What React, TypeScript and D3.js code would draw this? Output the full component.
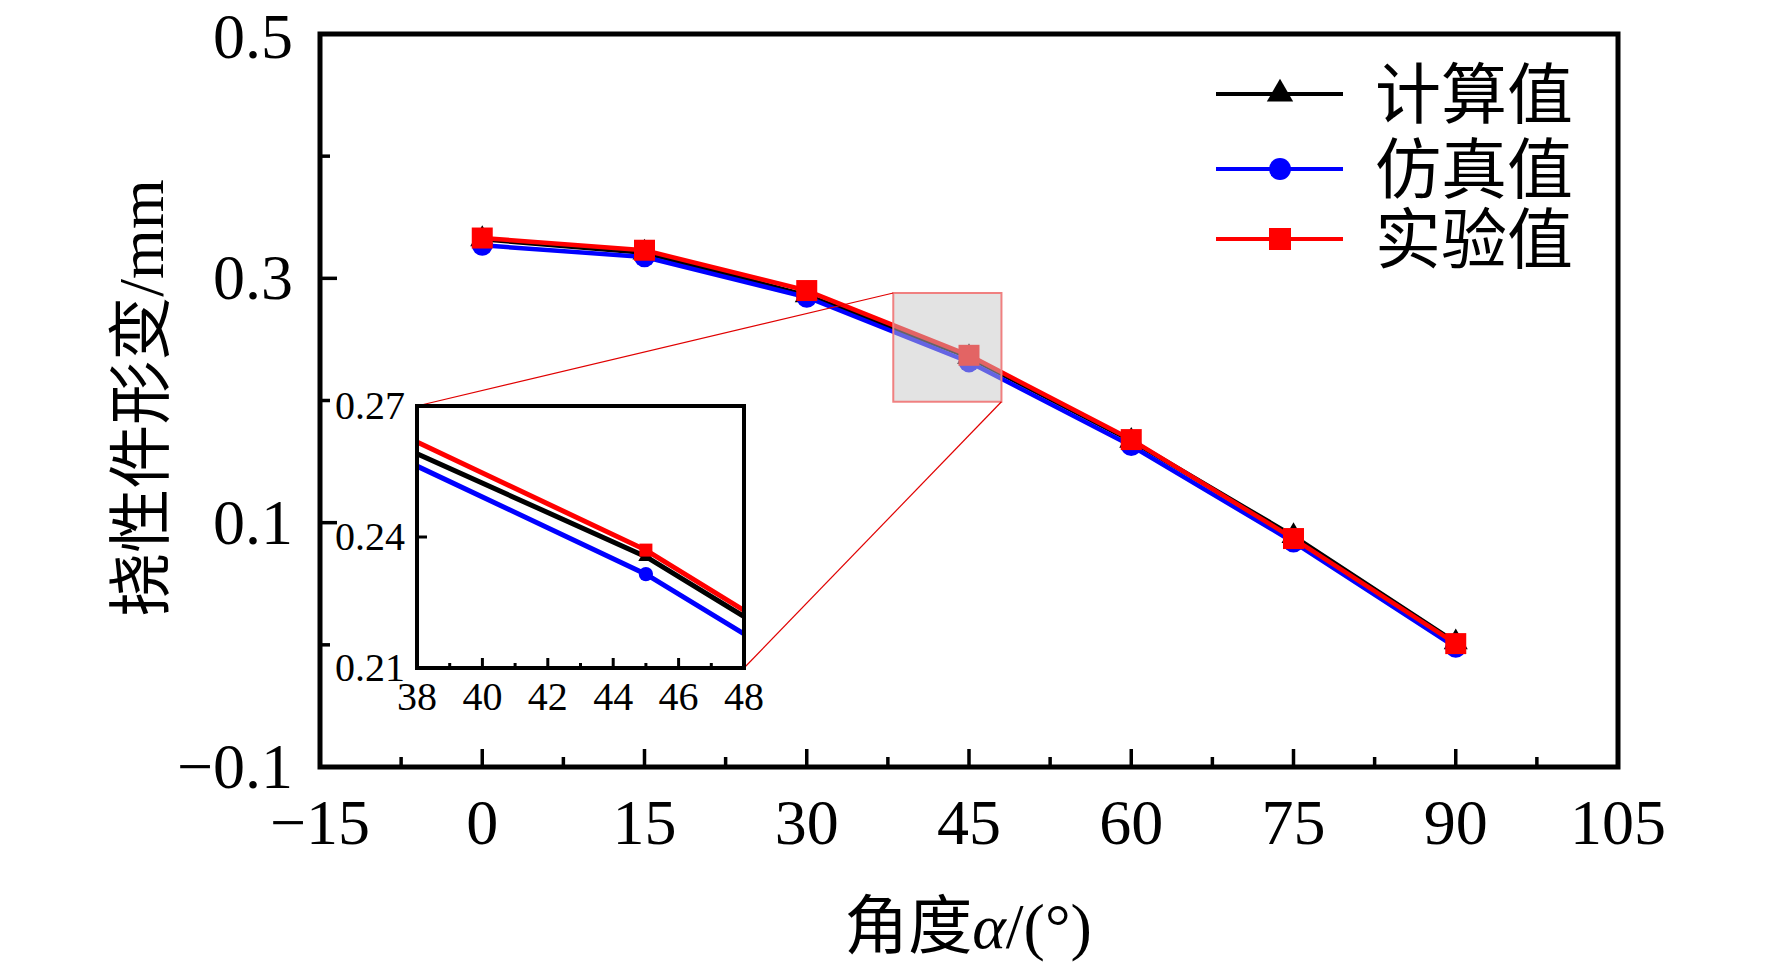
import React from 'react';
import * as d3 from 'd3';

// angle α (deg) and deflection (mm)
const angles = [0, 15, 30, 45, 60, 75, 90];
const calcValues = [0.332, 0.321, 0.286, 0.2355, 0.167, 0.089, 0.002];
const simValues = [0.327, 0.3175, 0.2845, 0.2315, 0.163, 0.084, -0.002];
const expValues = [0.333, 0.323, 0.29, 0.237, 0.168, 0.087, 0.001];

const seriesNames = ['计算值', '仿真值', '实验值'];
const seriesColors = ['#000000', '#0000ff', '#ff0000'];
const seriesSymbols = [d3.symbolTriangle, d3.symbolCircle, d3.symbolSquare];

const xMajorTicks = [-15, 0, 15, 30, 45, 60, 75, 90, 105];
const xMinorTicks = [-7.5, 7.5, 22.5, 37.5, 52.5, 67.5, 82.5, 97.5];
const xTickLabels = ['−15', '0', '15', '30', '45', '60', '75', '90', '105'];
const yMajorTicks = [-0.1, 0.1, 0.3, 0.5];
const yMinorTicks = [0, 0.2, 0.4];
const yTickLabels = ['−0.1', '0.1', '0.3', '0.5'];

// zoomed region
const zoomX = [38, 48];
const zoomBoxY = [0.199, 0.288];
const insetYDomain = [0.21, 0.27];
const insetXMajor = [38, 40, 42, 44, 46, 48];
const insetXMinor = [39, 41, 43, 45, 47];
const insetYMajor = [0.21, 0.24, 0.27];
const insetYLabels = ['0.21', '0.24', '0.27'];

const serif = '"Liberation Serif", "Times New Roman", serif';
const cjk = '"Liberation Serif", "Noto Sans CJK SC", serif';

export default function App() {
  const width = 1772;
  const height = 963;
  const x = d3.scaleLinear().domain([-15, 105]).range([320, 1618]);
  const y = d3.scaleLinear().domain([-0.1, 0.5]).range([767, 34]);

  const ix = d3.scaleLinear().domain(zoomX).range([417, 744]);
  const iy = d3.scaleLinear().domain(insetYDomain).range([668, 406]);

  const allSeries = [calcValues, simValues, expValues];

  const mainLine = d3.line<number>().x((_, i) => x(angles[i])).y(d => y(d));
  const insetLine = d3.line<number>().x((_, i) => ix(angles[i])).y(d => iy(d));

  const [x0, x1] = x.range();
  const [y0, y1] = y.range();
  const [ix0, ix1] = ix.range();
  const [iy0, iy1] = iy.range();

  const bx0 = x(zoomX[0]);
  const bx1 = x(zoomX[1]);
  const by0 = y(zoomBoxY[1]);
  const by1 = y(zoomBoxY[0]);

  const legendRows = [94, 169, 239];

  return (
    <svg
      width={width}
      height={height}
      style={{ position: 'absolute', left: 0, top: 0, background: '#fff' }}
    >
      <defs>
        <clipPath id="inset-clip">
          <rect x={ix0} y={iy1} width={ix1 - ix0} height={iy0 - iy1} />
        </clipPath>
      </defs>

      {/* main series */}
      {allSeries.map((vals, s) => (
        <g key={s}>
          <path d={mainLine(vals) || ''} fill="none" stroke={seriesColors[s]} strokeWidth={4.5} strokeLinejoin="round" />
          {vals.map((v, i) => (
            <path
              key={i}
              transform={`translate(${x(angles[i])},${y(v)})`}
              d={d3.symbol(seriesSymbols[s], s === 0 ? 250 : s === 1 ? 340 : 441)() || ''}
              fill={seriesColors[s]}
            />
          ))}
        </g>
      ))}

      {/* zoom box */}
      <rect
        x={bx0}
        y={by0}
        width={bx1 - bx0}
        height={by1 - by0}
        fill="rgba(200,200,200,0.5)"
        stroke="#f08080"
        strokeWidth={2}
      />
      <line x1={bx0} y1={by0} x2={ix0} y2={iy1} stroke="#e00000" strokeWidth={1.2} />
      <line x1={bx1} y1={by1} x2={ix1} y2={iy0} stroke="#e00000" strokeWidth={1.2} />

      {/* inset */}
      <rect x={ix0} y={iy1} width={ix1 - ix0} height={iy0 - iy1} fill="#fff" />
      <g clipPath="url(#inset-clip)">
        {allSeries.map((vals, s) => (
          <g key={s}>
            <path d={insetLine(vals) || ''} fill="none" stroke={seriesColors[s]} strokeWidth={5} />
            {vals.map((v, i) => (
              <path
                key={i}
                transform={`translate(${ix(angles[i])},${iy(v)})`}
                d={d3.symbol(seriesSymbols[s], s === 0 ? 100 : s === 1 ? 160 : 169)() || ''}
                fill={seriesColors[s]}
              />
            ))}
          </g>
        ))}
      </g>
      {insetXMajor.map(t => (
        <line key={t} x1={ix(t)} x2={ix(t)} y1={iy0} y2={iy0 - 10} stroke="#000" strokeWidth={3} />
      ))}
      {insetXMinor.map(t => (
        <line key={t} x1={ix(t)} x2={ix(t)} y1={iy0} y2={iy0 - 5} stroke="#000" strokeWidth={3} />
      ))}
      {insetYMajor.map(t => (
        <line key={t} x1={ix0} x2={ix0 + 10} y1={iy(t)} y2={iy(t)} stroke="#000" strokeWidth={3} />
      ))}
      <rect x={ix0} y={iy1} width={ix1 - ix0} height={iy0 - iy1} fill="none" stroke="#000" strokeWidth={4} />
      {insetXMajor.map(t => (
        <text key={t} x={ix(t)} y={710} textAnchor="middle" fontFamily={serif} fontSize={40}>
          {t}
        </text>
      ))}
      {insetYMajor.map((t, i) => (
        <text key={t} x={ix0 - 12} y={iy(t) + 13} textAnchor="end" fontFamily={serif} fontSize={40}>
          {insetYLabels[i]}
        </text>
      ))}

      {/* main axes */}
      {xMajorTicks.map(t => (
        <line key={t} x1={x(t)} x2={x(t)} y1={y0} y2={y0 - 18} stroke="#000" strokeWidth={3.5} />
      ))}
      {xMinorTicks.map(t => (
        <line key={t} x1={x(t)} x2={x(t)} y1={y0} y2={y0 - 10} stroke="#000" strokeWidth={3.5} />
      ))}
      {yMajorTicks.map(t => (
        <line key={t} x1={x0} x2={x0 + 17} y1={y(t)} y2={y(t)} stroke="#000" strokeWidth={3.5} />
      ))}
      {yMinorTicks.map(t => (
        <line key={t} x1={x0} x2={x0 + 10} y1={y(t)} y2={y(t)} stroke="#000" strokeWidth={3.5} />
      ))}
      <rect x={x0} y={y1} width={x1 - x0} height={y0 - y1} fill="none" stroke="#000" strokeWidth={5} />

      {xMajorTicks.map((t, i) => (
        <text key={t} x={x(t)} y={844} textAnchor="middle" fontFamily={serif} fontSize={64}>
          {xTickLabels[i]}
        </text>
      ))}
      {yMajorTicks.map((t, i) => (
        <text key={t} x={293} y={Math.max(y(t) + 21, 58)} textAnchor="end" fontFamily={serif} fontSize={64}>
          {yTickLabels[i]}
        </text>
      ))}

      {/* axis titles */}
      <text x={968} y={948} textAnchor="middle" fontFamily={cjk} fontSize={64}>
        角度<tspan fontStyle="italic">α</tspan>/(°)
      </text>
      <text
        transform="translate(163,398) rotate(-90)"
        textAnchor="middle"
        fontFamily={cjk}
        fontSize={64}
      >
        挠性件形变/mm
      </text>

      {/* legend */}
      {seriesNames.map((name, s) => (
        <g key={name}>
          <line x1={1216} x2={1343} y1={legendRows[s]} y2={legendRows[s]} stroke={seriesColors[s]} strokeWidth={4} />
          <path
            transform={`translate(1280,${legendRows[s]})`}
            d={d3.symbol(seriesSymbols[s], s === 0 ? 300 : s === 1 ? 380 : 484)() || ''}
            fill={seriesColors[s]}
          />
          <text x={1375} y={legendRows[s] + 24} fontFamily={cjk} fontSize={66}>
            {name}
          </text>
        </g>
      ))}
    </svg>
  );
}
